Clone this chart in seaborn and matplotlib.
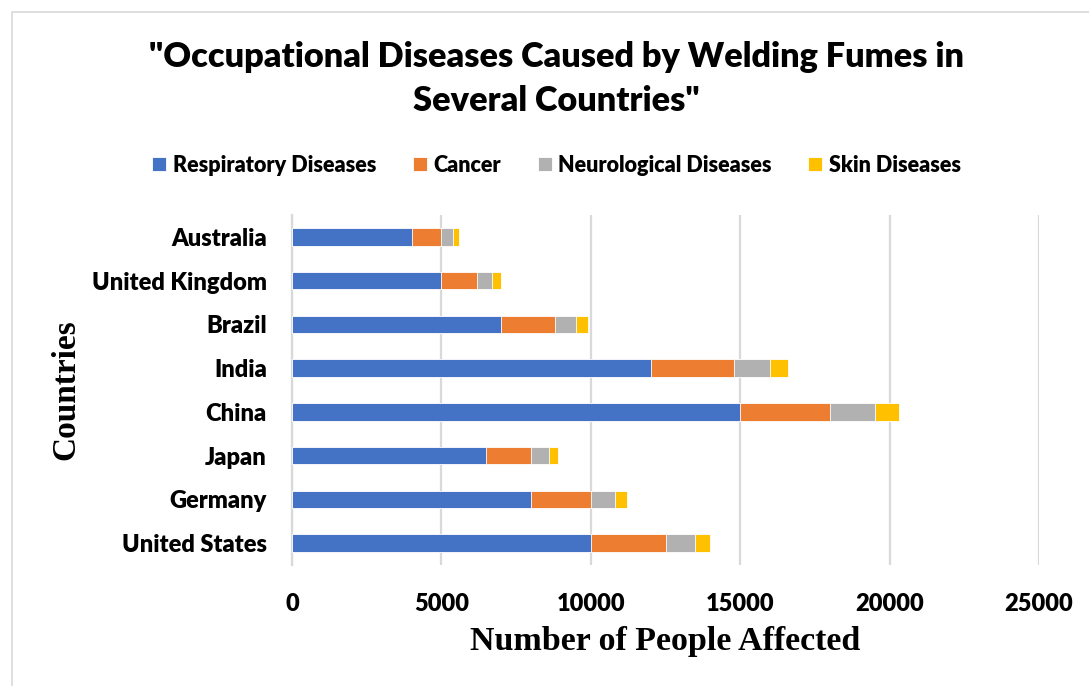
import matplotlib
matplotlib.use("Agg")
import matplotlib.pyplot as plt
import numpy as np
import pandas as pd
import seaborn as sns
from matplotlib.patches import Rectangle

countries = ["Australia", "United Kingdom", "Brazil", "India", "China", "Japan", "Germany", "United States"]
respiratory = [4000, 5000, 7000, 12000, 15000, 6500, 8000, 10000]
cancer = [1000, 1200, 1800, 2800, 3000, 1500, 2000, 2500]
neurological = [400, 500, 700, 1200, 1500, 600, 800, 1000]
skin = [200, 300, 400, 600, 800, 300, 400, 500]

series = ["Respiratory Diseases", "Cancer", "Neurological Diseases", "Skin Diseases"]
colors = ["#4472C4", "#ED7D31", "#B1B1B1", "#FFC000"]

df = pd.DataFrame({"Country": countries,
                   "Respiratory Diseases": respiratory,
                   "Cancer": cancer,
                   "Neurological Diseases": neurological,
                   "Skin Diseases": skin})
# cumulative sums, drawn largest first so the shorter ones sit on top
cum = df[series].cumsum(axis=1)
cum["Country"] = df["Country"]

sns.set_style("white")
plt.rcParams["font.family"] = ["Lato", "DejaVu Sans"]
plt.rcParams["text.color"] = "black"
plt.rcParams["xtick.color"] = "black"
plt.rcParams["ytick.color"] = "black"
plt.rcParams["axes.labelcolor"] = "black"

W = "heavy"

fig = plt.figure(figsize=(10.89, 6.86), dpi=100)
ax = fig.add_axes([292 / 1089, 1 - 565 / 686, (1039 - 292) / 1089, (565 - 215) / 686])

for s, c in reversed(list(zip(series, colors))):
    sns.barplot(data=cum, x=s, y="Country", order=countries, color=c, width=0.4,
                saturation=1, edgecolor="white", linewidth=0.6, ax=ax, label=s, zorder=3)

ax.set_xlim(0, 25000)
ax.set_xticks([0, 5000, 10000, 15000, 20000, 25000])
ax.grid(axis="x", color="#d9d9d9", linewidth=1.6, zorder=0)
ax.set_axisbelow(True)
for sp in ["top", "right", "bottom"]:
    ax.spines[sp].set_visible(False)
ax.spines["left"].set_color("#d9d9d9")
ax.spines["left"].set_linewidth(1.6)

ax.tick_params(axis="x", length=0, pad=20, labelsize=17, labelcolor="black")
ax.tick_params(axis="y", which="major", length=0, pad=18, labelsize=17, labelcolor="black")
ax.set_yticks(np.arange(-0.5, len(countries), 1), minor=True)
ax.tick_params(axis="y", which="minor", length=7, color="#d9d9d9", width=1.6)
for lab in ax.get_xticklabels() + ax.get_yticklabels():
    lab.set_fontweight(W)

ax.set_xlabel("Number of People Affected", fontsize=24.5, fontweight="bold",
              family="Liberation Serif", labelpad=8, color="black")
ax.set_ylabel("Countries", fontsize=24, fontweight="bold",
              family="Liberation Serif", labelpad=8, color="black")

handles, labels = ax.get_legend_handles_labels()
order = [labels.index(s) for s in series]
if ax.legend_:
    ax.legend_.remove()
fig.legend([handles[i] for i in order], [labels[i] for i in order], ncol=4,
           loc="center", bbox_to_anchor=(0.511, 1 - 165 / 686), frameon=False,
           prop={"weight": W, "size": 15.5}, handlelength=0.65, handleheight=0.65,
           handletextpad=0.3, columnspacing=1.7)

fig.text(0.511, 1 - 79 / 686, '"Occupational Diseases Caused by Welding Fumes in\nSeveral Countries"',
         ha="center", va="center", fontsize=24.7, fontweight=W, linespacing=1.45,
         color="black")

fig.patches.append(Rectangle((12 / 1089, -0.05), 1.2, 1 - 12 / 686 + 0.05,
                             transform=fig.transFigure, fill=False,
                             edgecolor="#d9d9d9", linewidth=1.2))

fig.savefig("out.png", dpi=100)
